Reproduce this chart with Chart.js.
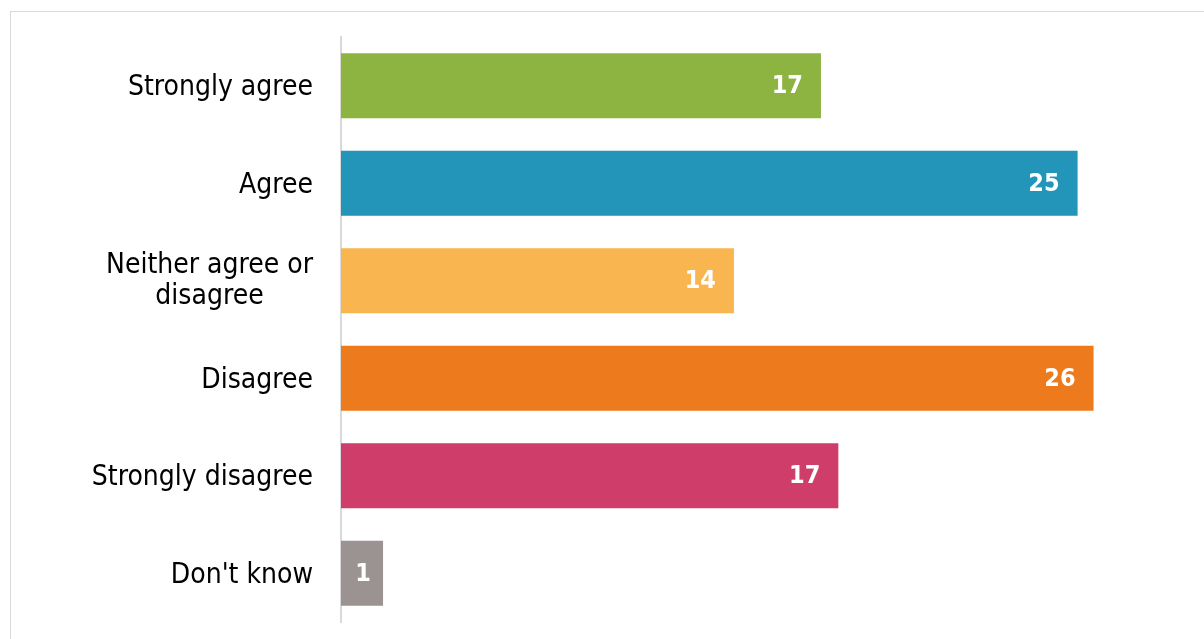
<!DOCTYPE html>
<html>
<head>
<meta charset="utf-8">
<script src="https://cdn.jsdelivr.net/npm/chart.js@4/dist/chart.umd.min.js"></script>
<style>
    html, body { margin: 0; padding: 0; background: #fff; overflow: hidden; }
    #frame {
        position: absolute; left: 10px; top: 11px; width: 1300px; height: 700px;
        border: 1px solid #d9d9d9; box-sizing: border-box;
    }
    #wrap { position: absolute; left: 0; top: 0; width: 1204px; height: 639px; }
</style>
</head>
<body>
<div id="frame"></div>
<div id="wrap"><canvas id="chart"></canvas></div>
<script>
// DATA
const categories = ["Strongly agree", "Agree", ["Neither agree or", "disagree"], "Disagree", "Strongly disagree", "Don't know"];
const values = [16.55, 25.4, 13.55, 25.95, 17.15, 1.45];
const barColors = ["#8db340", "#2295b8", "#f8b550", "#ed7a1c", "#cf3e6a", "#9a9392"];

const FONT = "'DejaVu Sans Condensed', 'DejaVu Sans', sans-serif";

// category labels: right edge near the axis, multi-line blocks centred
const catLabels = {
    id: "catLabels",
    afterDraw(chart) {
        const ctx = chart.ctx;
        const y = chart.scales.y;
        const right = y.right - 28;
        ctx.save();
        ctx.fillStyle = "#000000";
        ctx.font = "28px " + FONT;
        ctx.textBaseline = "middle";
        ctx.textAlign = "center";
        categories.forEach((c, i) => {
            const lines = Array.isArray(c) ? c : [c];
            const w = Math.max(...lines.map(l => ctx.measureText(l).width));
            const cy = y.getPixelForValue(i) + (lines.length > 1 ? 0 : 2);
            const lh = 31;
            lines.forEach((l, j) => {
                ctx.fillText(l, right - w / 2, cy + (j - (lines.length - 1) / 2) * lh);
            });
        });
        ctx.restore();
    }
};

// value labels drawn inside the bar ends
const barLabels = {
    id: "barLabels",
    afterDatasetsDraw(chart) {
        const ctx = chart.ctx;
        const meta = chart.getDatasetMeta(0);
        ctx.save();
        ctx.fillStyle = "#ffffff";
        ctx.font = "bold 25px " + FONT;
        ctx.textBaseline = "middle";
        meta.data.forEach((bar, i) => {
            const txt = String(Math.round(values[i]));
            const tw = ctx.measureText(txt).width;
            const bw = bar.x - bar.base;
            if (bw < tw + 34) {
                ctx.textAlign = "center";
                ctx.fillText(txt, bar.base + bw / 2 + 1, bar.y + 1);
            } else {
                ctx.textAlign = "right";
                ctx.fillText(txt, bar.x - 18, bar.y + 1);
            }
        });
        ctx.restore();
    }
};

new Chart(document.getElementById("chart"), {
    type: "bar",
    data: {
        labels: categories,
        datasets: [{
            data: values,
            backgroundColor: barColors,
            borderWidth: 0,
            categoryPercentage: 1,
            barPercentage: 0.667
        }]
    },
    options: {
        indexAxis: "y",
        responsive: true,
        maintainAspectRatio: false,
        animation: false,
        layout: { padding: { top: 37, bottom: 17, left: 0, right: 22 } },
        plugins: { legend: { display: false }, tooltip: { enabled: false } },
        scales: {
            x: { display: false, min: 0, max: 29 },
            y: {
                grid: { display: false, drawTicks: false },
                border: { display: true, color: "#d9d9d9", width: 2 },
                ticks: { display: false },
                afterFit(axis) {
                    axis.width = 341;
                    axis.paddingTop = 0;
                    axis.paddingBottom = 0;
                }
            }
        }
    },
    plugins: [barLabels, catLabels]
});
</script>
</body>
</html>
